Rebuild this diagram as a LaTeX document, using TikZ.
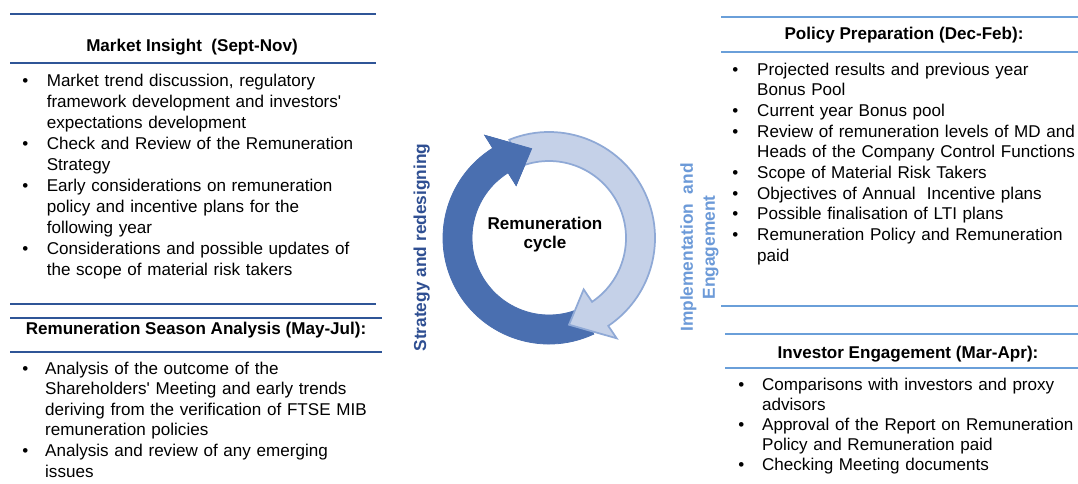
\documentclass[tikz,border=0pt]{standalone}
\usepackage{fontspec}
\setmainfont{Liberation Sans}

\definecolor{navyrule}{HTML}{2F5597}
\definecolor{skyrule}{HTML}{6A9FD9}
\definecolor{darkarrow}{HTML}{4A6FB0}
\definecolor{paleblue}{HTML}{C5D1E8}
\definecolor{paleedge}{HTML}{8FA9D6}
\definecolor{navytext}{HTML}{2F4F92}
\definecolor{skytext}{HTML}{6C9AD8}

% bullet paragraph with hanging indent: #1 = indent, #2 = text
\newcommand{\bitem}[2]{\hangindent=#1\hangafter=1\noindent\makebox[#1][l]{\textbullet}\ignorespaces#2\par}

\tikzset{
  leftrule/.style={draw=navyrule, line width=1.5pt},
  rightrule/.style={draw=skyrule, line width=1.3pt},
  hdr/.style={anchor=base, inner sep=0pt, font=\fontsize{12.8}{15.6}\selectfont\bfseries},
  blist/.style={anchor=base west, inner sep=0pt, text width=300pt, align=left,
    font=\fontsize{12.8}{#1}\selectfont},
  darkring/.style={fill=darkarrow, draw=darkarrow, line width=0.6pt, line join=miter},
  palering/.style={fill=paleblue, draw=paleedge, line width=1.3pt, line join=miter},
}

\begin{document}
\begin{tikzpicture}[x=0.75pt, y=-0.75pt]
\useasboundingbox (0,0) rectangle (1078,483);
\fill[white] (0,0) rectangle (1078,483);

% ---- rules framing the four blocks ----
\draw[leftrule] (10,14) -- (376,14);
\draw[leftrule] (10,63) -- (376,63);
\draw[leftrule] (10,304) -- (376,304);
\draw[leftrule] (10,318) -- (382,318);
\draw[leftrule] (10,352) -- (382,352);
\draw[rightrule] (721,17) -- (1078,17);
\draw[rightrule] (721,52) -- (1078,52);
\draw[rightrule] (721,306) -- (1078,306);
\draw[rightrule] (725,334) -- (1078,334);
\draw[rightrule] (725,368) -- (1078,368);

% ---- block headings ----
\node[hdr] (insight) at (192,51.5) {Market Insight\ \ (Sept-Nov)};
\node[hdr] (season) at (196,334.5) {Remuneration Season Analysis (May-Jul):};
\node[hdr] (policy) at (904,39.5) {Policy Preparation (Dec-Feb):};
\node[hdr] (investor) at (908,358.5) {Investor Engagement (Mar-Apr):};

% ---- block contents ----
\node[blist=15.75pt] (insightlist) at (22,86.7) {%
\bitem{18.4pt}{Market trend discussion, regulatory\newline framework development and investors\textquotesingle\newline expectations development}%
\bitem{18.4pt}{Check and Review of the Remuneration\newline Strategy}%
\bitem{18.4pt}{Early considerations on remuneration\newline policy and incentive plans for the\newline following year}%
\bitem{18.4pt}{Considerations and possible updates of\newline the scope of material risk takers}};

\node[blist=15.45pt] (seasonlist) at (22,374) {%
\bitem{17.2pt}{Analysis of the outcome of the\newline Shareholders\textquotesingle\ Meeting and early trends\newline deriving from the verification of FTSE MIB\newline remuneration policies}%
\bitem{17.2pt}{Analysis and review of any emerging\newline issues}};

\node[blist=15.5pt] (policylist) at (732,75) {%
\bitem{18.7pt}{Projected results and previous year\newline Bonus Pool}%
\bitem{18.7pt}{Current year Bonus pool}%
\bitem{18.7pt}{Review of remuneration levels of MD and\newline Heads of the Company Control Functions}%
\bitem{18.7pt}{Scope of Material Risk Takers}%
\bitem{18.7pt}{Objectives of Annual\ \ Incentive plans}%
\bitem{18.7pt}{Possible finalisation of LTI plans}%
\bitem{18.7pt}{Remuneration Policy and Remuneration\newline paid}};

\node[blist=15pt] (investorlist) at (738,390.7) {%
\bitem{17.9pt}{Comparisons with investors and proxy\newline advisors}%
\bitem{17.9pt}{Approval of the Report on Remuneration\newline Policy and Remuneration paid}%
\bitem{17.9pt}{Checking Meeting documents}};

% ---- the remuneration cycle: two circular arrows ----
\begin{scope}[shift={(549,238)}, x=0.75pt, y=0.75pt]
  % dark arrow: up the left side, head at the top
  \path[darkring] (-65:77) -- (-65:106) arc[start angle=-65, end angle=-238, radius=106]
    -- (-238:121) -- (-259:91) -- (-238:62) -- (-238:77)
    arc[start angle=-238, end angle=-65, radius=77] -- cycle;
  % pale arrow: down the right side, head at the bottom
  \path[palering] (112:77) -- (112:106) arc[start angle=112, end angle=-56, radius=106]
    -- (-56:121) -- (-77:89) -- (-56:62) -- (-56:77)
    arc[start angle=-56, end angle=112, radius=77] -- cycle;
  % dark head laid over the pale tail
  \path[darkring] (-238:121) -- (-259:91) -- (-238:62) -- cycle;
\end{scope}

\node[align=center, inner sep=0pt, font=\fontsize{12.8}{14.25}\selectfont\bfseries] (cycle) at (545,234.3) {Remuneration\\cycle};

% ---- side captions ----
\node[rotate=90, anchor=base, inner sep=0pt, text=navytext, font=\fontsize{13}{15.6}\selectfont\bfseries] (strategy) at (426,247.5) {Strategy and redesigning};
\node[rotate=90, align=center, inner sep=0pt, text=skytext, font=\fontsize{13}{16.5}\selectfont\bfseries] (implement) at (699.5,247.5) {Implementation\ \ and\\Engagement};
\end{tikzpicture}
\end{document}
